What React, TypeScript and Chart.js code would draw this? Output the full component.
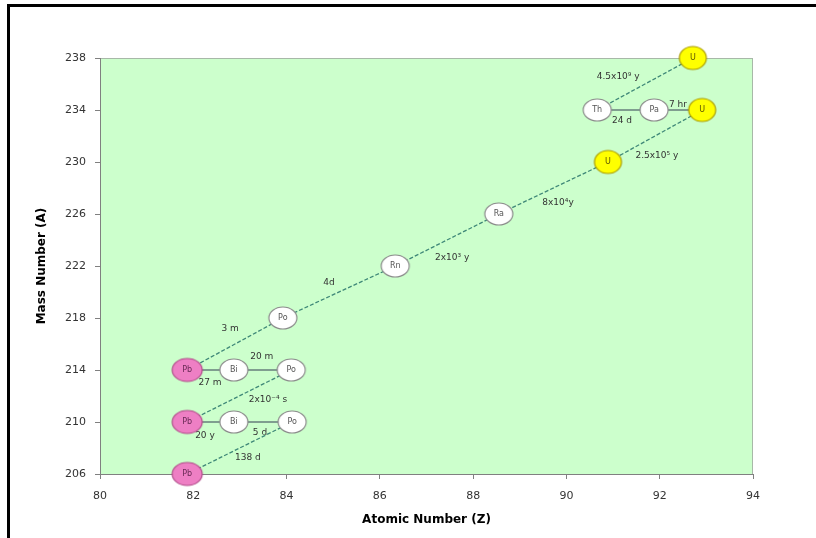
import React, { useEffect, useRef } from "react";
import { Chart, registerables } from "chart.js";

Chart.register(...registerables);

// Nuclides of the U-238 decay chain (as placed in the reference picture)
const symbols = ["U", "Th", "Pa", "U", "U", "Ra", "Rn", "Po", "Pb", "Bi", "Po", "Pb", "Bi", "Po", "Pb"];
const atomicNumber = [92.71, 90.66, 91.88, 92.91, 90.89, 88.55, 86.33, 83.92, 81.87, 82.87, 84.1, 81.87, 82.87, 84.12, 81.87];
const massNumber = [238, 234, 234, 234, 230, 226, 222, 218, 214, 214, 214, 210, 210, 210, 206];
const kinds = ["U", "o", "o", "U", "U", "o", "o", "o", "Pb", "o", "o", "Pb", "o", "o", "Pb"];

// Decay steps
const decayFrom = [0, 1, 2, 3, 4, 5, 6, 7, 8, 9, 10, 11, 12, 13];
const decayTo = [1, 2, 3, 4, 5, 6, 7, 8, 9, 10, 11, 12, 13, 14];
const halfLives = ["4.5x10⁹ y", "24 d", "7 hr", "2.5x10⁵ y", "8x10⁴y", "2x10³ y", "4d", "3 m", "27 m", "20 m", "2x10⁻⁴ s", "20 y", "5 d", "138 d"];
const halfLifeZ = [91.11, 91.19, 92.39, 91.94, 89.82, 87.55, 84.91, 82.79, 82.36, 83.47, 83.6, 82.25, 83.43, 83.17];
const halfLifeA = [236.54, 233.15, 234.38, 230.46, 226.85, 222.62, 220.69, 217.15, 213.0, 215.0, 211.7, 208.92, 209.15, 207.23];

// Axes
const xMin = 80, xMax = 94, xStep = 2;
const yMin = 206, yMax = 238, yStep = 4;
const xTitle = "Atomic Number (Z)";
const yTitle = "Mass Number (A)";

function ellipseImage(w: number, h: number, fill: string, stroke: string, lw: number) {
  const c = document.createElement("canvas");
  c.width = w + 4;
  c.height = h + 4;
  const g = c.getContext("2d")!;
  g.beginPath();
  g.ellipse(c.width / 2, c.height / 2, w / 2, h / 2, 0, 0, Math.PI * 2);
  g.fillStyle = fill;
  g.fill();
  g.lineWidth = lw;
  g.strokeStyle = stroke;
  g.stroke();
  return c;
}

export default function App() {
  const ref = useRef<HTMLCanvasElement | null>(null);

  useEffect(() => {
    if (!ref.current) return;
    const images: Record<string, HTMLCanvasElement> = {
      U: ellipseImage(27, 23, "#ffff00", "#a89a00", 1.2),
      o: ellipseImage(28, 22, "#ffffff", "#8a8a8a", 1.2),
      Pb: ellipseImage(30, 23, "#ee7fc4", "#b04a88", 1.2),
    };

    const lineDatasets = decayFrom.map((f, i) => {
      const t = decayTo[i];
      const horizontal = massNumber[f] === massNumber[t];
      return {
        type: "scatter" as const,
        data: [
          { x: atomicNumber[f], y: massNumber[f] },
          { x: atomicNumber[t], y: massNumber[t] },
        ],
        showLine: true,
        borderColor: horizontal ? "#7f9e8f" : "#3f8878",
        borderWidth: horizontal ? 2.2 : 1.3,
        borderDash: horizontal ? [] : [4, 2],
        pointRadius: 0,
        pointHoverRadius: 0,
        order: 1,
        clip: false as any,
      };
    });

    const pointDataset = {
      type: "scatter" as const,
      data: atomicNumber.map((z, i) => ({ x: z, y: massNumber[i] })),
      pointStyle: (ctx: any) => images[kinds[ctx.dataIndex]] || "circle",
      pointRadius: 12,
      pointHoverRadius: 12,
      order: 0,
      clip: false as any,
    };

    const decor = {
      id: "decor",
      beforeDraw(chart: any) {
        const { ctx, chartArea: a, width, height } = chart;
        ctx.save();
        ctx.fillStyle = "#ffffff";
        ctx.fillRect(0, 0, width, height);
        ctx.fillStyle = "#ccffcc";
        ctx.fillRect(a.left, a.top, a.right - a.left, a.bottom - a.top);
        ctx.strokeStyle = "#a8b8a8";
        ctx.lineWidth = 1;
        ctx.strokeRect(a.left + 0.5, a.top + 0.5, a.right - a.left - 1, a.bottom - a.top);
        ctx.restore();
      },
      beforeDatasetsDraw(chart: any) {
        const { ctx, scales } = chart;
        ctx.save();
        ctx.font = "9px 'DejaVu Sans'";
        ctx.fillStyle = "#333333";
        ctx.textAlign = "center";
        ctx.textBaseline = "middle";
        halfLives.forEach((t, i) => {
          ctx.fillText(t, scales.x.getPixelForValue(halfLifeZ[i]), scales.y.getPixelForValue(halfLifeA[i]));
        });
        ctx.restore();
      },
      afterDatasetsDraw(chart: any) {
        const { ctx } = chart;
        const meta = chart.getDatasetMeta(chart.data.datasets.length - 1);
        ctx.save();
        ctx.font = "8px 'DejaVu Sans'";
        ctx.textAlign = "center";
        ctx.textBaseline = "middle";
        meta.data.forEach((el: any, i: number) => {
          ctx.fillStyle = kinds[i] === "Pb" ? "#6a2a55" : kinds[i] === "U" ? "#5a5200" : "#555555";
          ctx.fillText(symbols[i], el.x, el.y);
        });
        ctx.restore();
      },
      afterDraw(chart: any) {
        const { ctx, width, height } = chart;
        ctx.save();
        ctx.fillStyle = "#000000";
        ctx.fillRect(7, 4, width - 7, 3);
        ctx.fillRect(7, 4, 3, height - 4);
        ctx.restore();
      },
    };

    const chart = new Chart(ref.current, {
      type: "scatter",
      data: { datasets: [...lineDatasets, pointDataset] as any },
      options: {
        animation: false,
        responsive: false,
        devicePixelRatio: 1,
        layout: { padding: { left: 0, top: 58, right: 63, bottom: 0 } },
        plugins: { legend: { display: false }, tooltip: { enabled: false } },
        events: [],
        scales: {
          x: {
            type: "linear",
            min: xMin,
            max: xMax,
            ticks: { stepSize: xStep, color: "#333333", font: { family: "DejaVu Sans", size: 11 }, padding: 11 },
            grid: { drawOnChartArea: false, tickLength: 5, color: "#808080" },
            border: { color: "#808080" },
            title: {
              display: true,
              text: xTitle,
              color: "#000000",
              font: { family: "DejaVu Sans", size: 12, weight: "bold" },
              padding: { top: 0, bottom: 11 },
            },
            afterFit: (s: any) => {
              s.height = 64;
            },
          },
          y: {
            type: "linear",
            min: yMin,
            max: yMax,
            ticks: { stepSize: yStep, color: "#333333", font: { family: "DejaVu Sans", size: 11 }, padding: 9 },
            grid: { drawOnChartArea: false, tickLength: 5, color: "#808080" },
            border: { color: "#808080" },
            title: {
              display: true,
              text: yTitle,
              color: "#000000",
              font: { family: "DejaVu Sans", size: 12, weight: "bold" },
              padding: { top: 35, bottom: 0 },
            },
            afterFit: (s: any) => {
              s.width = 100;
            },
          },
        },
      },
      plugins: [decor],
    } as any);

    return () => chart.destroy();
  }, []);

  return (
    <div style={{ position: "fixed", left: 0, top: 0, width: 816, height: 538 }}>
      <canvas ref={ref} width={816} height={538} style={{ display: "block" }} />
    </div>
  );
}
